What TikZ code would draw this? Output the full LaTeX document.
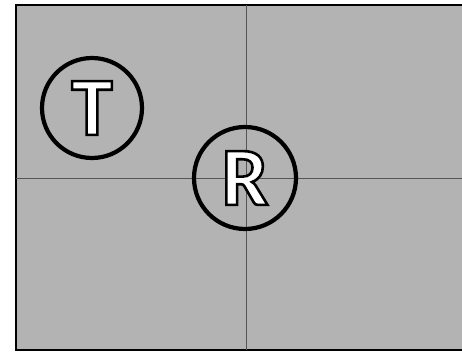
\documentclass[tikz,border=0pt]{standalone}
\usepackage{fontspec}
\setmainfont{Carlito}[BoldFont={Carlito Bold}]
\definecolor{panel}{RGB}{179,179,179}
\definecolor{axis}{RGB}{85,85,85}
\tikzset{
  ring/.style={circle, draw=black, line width=4.2pt, minimum size=100pt, inner sep=0pt,
    font=\fontsize{83}{83}\selectfont\bfseries},
  axisline/.style={draw=axis, line width=0.8pt},
}
\newcommand{\outl}[1]{\special{pdf:literal direct 2 Tr 2.6 w 0 G 1 g}#1\special{pdf:literal direct 0 Tr}}
\begin{document}
\begin{tikzpicture}[x=1pt,y=-1pt]
\useasboundingbox (0,0) rectangle (462,352);
\clip (0,0) rectangle (462,352);
\fill[white] (0,0) rectangle (462,352);
\draw[fill=panel, line width=2.5pt] (16,5) coordinate (tl) rectangle (475,350) coordinate (br);
\coordinate (vt) at (246,5);
\coordinate (vb) at (246,350);
\coordinate (hl) at (16,178);
\coordinate (hr) at (475,178);
\draw[axisline] (vt) -- (vb);
\draw[axisline] (hl) -- (hr);
\node[ring] (T) at (92,108) {\outl{T}};
\node[ring, minimum size=102pt] (R) at (245,178) {\outl{R}};
\end{tikzpicture}
\end{document}
